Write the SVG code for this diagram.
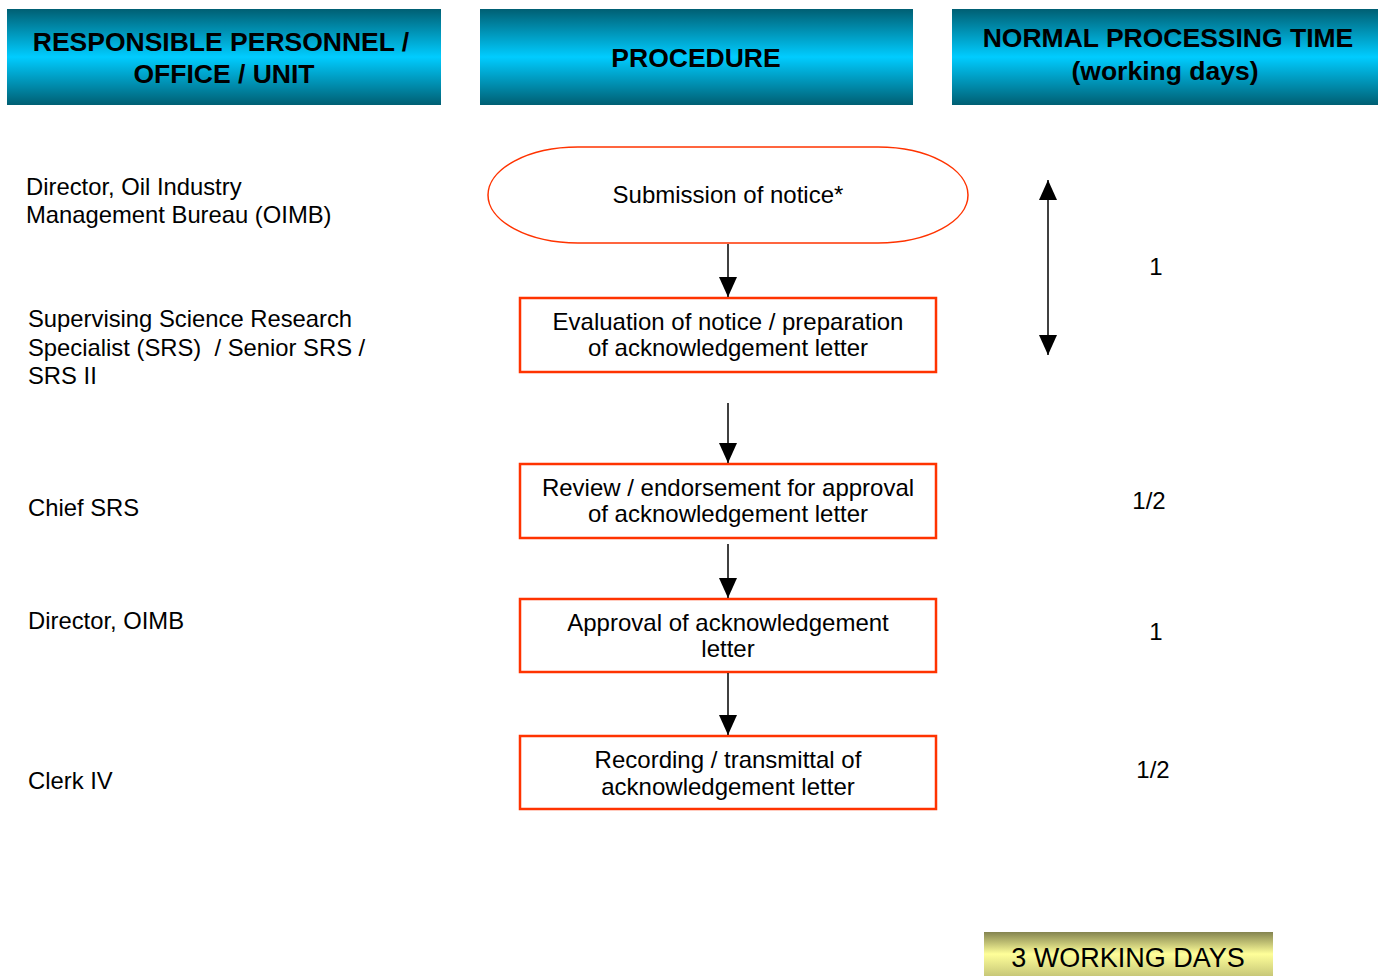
<svg xmlns="http://www.w3.org/2000/svg" width="1378" height="976" viewBox="0 0 1378 976">
<style>
text{font-family:"Liberation Sans",Arial,sans-serif;fill:#000}
.hd{font-size:26.5px;font-weight:bold;text-anchor:middle}
.lb{font-size:23.8px}
.nt{font-size:24px;text-anchor:middle}
.box{fill:#fff;stroke:#ff3300;stroke-width:2.5}
.con{stroke:#000;stroke-width:1.5;fill:none}
</style>
<defs>
<linearGradient id="hg" x1="0" y1="0" x2="0" y2="1">
<stop offset="0" stop-color="#005f73"/>
<stop offset="0.5" stop-color="#00ccff"/>
<stop offset="1" stop-color="#005f73"/>
</linearGradient>
<linearGradient id="yg" x1="0" y1="0" x2="0" y2="1">
<stop offset="0" stop-color="#848450"/>
<stop offset="0.5" stop-color="#ffff99"/>
<stop offset="1" stop-color="#c8c878"/>
</linearGradient>
<marker id="ah" viewBox="0 0 20 18" refX="20" refY="9" markerWidth="20" markerHeight="18" markerUnits="userSpaceOnUse" orient="auto-start-reverse">
<path d="M0,0 L20,9 L0,18 z" fill="#000"/>
</marker>
</defs>
<g id="header-personnel">
<rect x="7" y="9" width="434" height="96" fill="url(#hg)"/>
<text class="hd" x="221" y="51">RESPONSIBLE PERSONNEL /</text>
<text class="hd" x="224" y="83">OFFICE / UNIT</text>
</g>
<g id="header-procedure">
<rect x="480" y="9" width="433" height="96" fill="url(#hg)"/>
<text class="hd" x="696" y="67">PROCEDURE</text>
</g>
<g id="header-time">
<rect x="952" y="9" width="426" height="96" fill="url(#hg)"/>
<text class="hd" x="1168" y="47">NORMAL PROCESSING TIME</text>
<text class="hd" x="1165" y="80">(working days)</text>
</g>
<g id="labels">
<text class="lb" x="26" y="195">Director, Oil Industry</text>
<text class="lb" x="26" y="223">Management Bureau (OIMB)</text>
<text class="lb" x="28" y="327">Supervising Science Research</text>
<text class="lb" x="28" y="356" xml:space="preserve">Specialist (SRS)  / Senior SRS /</text>
<text class="lb" x="28" y="384">SRS II</text>
<text class="lb" x="28" y="516">Chief SRS</text>
<text class="lb" x="28" y="629">Director, OIMB</text>
<text class="lb" x="28" y="789">Clerk IV</text>
</g>
<g id="n-submission">
<rect x="488" y="147" width="480" height="96" rx="90" ry="48" fill="#fff" stroke="#ff3300" stroke-width="1.5"/>
<text class="nt" x="728" y="203">Submission of notice*</text>
</g>
<g id="n-evaluation">
<rect class="box" x="520" y="298" width="416" height="74"/>
<text class="nt" x="728" y="330">Evaluation of notice / preparation</text>
<text class="nt" x="728" y="356">of acknowledgement letter</text>
</g>
<g id="n-review">
<rect class="box" x="520" y="464" width="416" height="74"/>
<text class="nt" x="728" y="496">Review / endorsement for approval</text>
<text class="nt" x="728" y="522">of acknowledgement letter</text>
</g>
<g id="n-approval">
<rect class="box" x="520" y="599" width="416" height="73"/>
<text class="nt" x="728" y="631">Approval of acknowledgement</text>
<text class="nt" x="728" y="657">letter</text>
</g>
<g id="n-recording">
<rect class="box" x="520" y="736" width="416" height="73"/>
<text class="nt" x="728" y="768">Recording / transmittal of</text>
<text class="nt" x="728" y="795">acknowledgement letter</text>
</g>
<g id="connectors">
<line class="con" x1="728" y1="244" x2="728" y2="297" marker-end="url(#ah)"/>
<line class="con" x1="728" y1="403" x2="728" y2="463" marker-end="url(#ah)"/>
<line class="con" x1="728" y1="544" x2="728" y2="598" marker-end="url(#ah)"/>
<line class="con" x1="728" y1="673" x2="728" y2="735" marker-end="url(#ah)"/>
<line class="con" x1="1048" y1="180" x2="1048" y2="355" marker-start="url(#ah)" marker-end="url(#ah)"/>
</g>
<g id="times">
<text class="nt" x="1156" y="275">1</text>
<text class="nt" x="1149" y="509">1/2</text>
<text class="nt" x="1156" y="640">1</text>
<text class="nt" x="1153" y="778">1/2</text>
</g>
<g id="total">
<rect x="984" y="932" width="289" height="44" fill="url(#yg)"/>
<text x="1128" y="967" style="font-size:27px;text-anchor:middle">3 WORKING DAYS</text>
</g>
</svg>
